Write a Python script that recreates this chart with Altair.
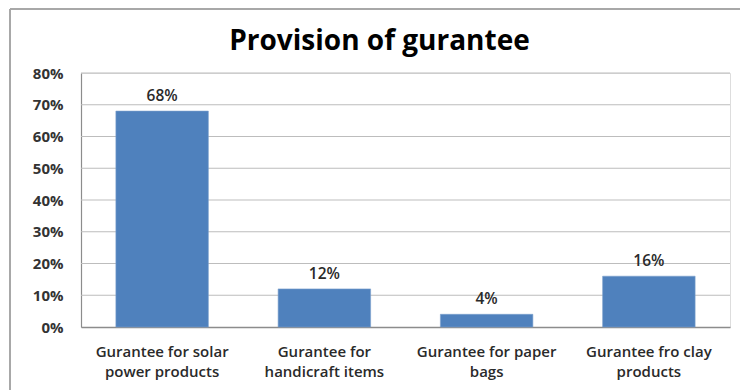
import altair as alt
import pandas as pd

categories = ["Gurantee for solar power products", "Gurantee for handicraft items",
              "Gurantee for paper bags", "Gurantee fro clay products"]
label_lines = [["Gurantee for solar", "power products"], ["Gurantee for", "handicraft items"],
               ["Gurantee for paper", "bags"], ["Gurantee fro clay", "products"]]
values = [0.68, 0.12, 0.04, 0.16]
value_labels = ["68%", "12%", "4%", "16%"]
y_ticks = [0, 0.1, 0.2, 0.3, 0.4, 0.5, 0.6, 0.7, 0.8]

df = pd.DataFrame({"cat": categories, "val": values, "lbl": value_labels})
grid_df = pd.DataFrame({"val": y_ticks[1:]})

label_expr = "{" + ", ".join(
    f"'{c}': {lines!r}" for c, lines in zip(categories, label_lines)
) + "}[datum.value]"

FONT = "Open Sans"

x = alt.X("cat:N", sort=categories, title=None,
          scale=alt.Scale(paddingInner=0.43, paddingOuter=0.215),
          axis=alt.Axis(labelAngle=0, labelExpr=label_expr, labelFontSize=15,
                        labelFont=FONT, labelFontWeight=600, labelColor="#2a2a2a",
                        labelPadding=17, labelLineHeight=20, ticks=False,
                        domainColor="#8c8c8c", domainWidth=1.5, labelLimit=220))
y_axis = alt.Axis(format=".0%", values=y_ticks, labelOverlap=False,
                  labelFontSize=15, labelFont=FONT, labelColor="#333333",
                  labelFontWeight="bold", labelPadding=18, ticks=False,
                  grid=False, domainColor="#8c8c8c", domainWidth=1.2)
y = alt.Y("val:Q", title=None, scale=alt.Scale(domain=[0, 0.8], nice=False), axis=y_axis)

grid = alt.Chart(grid_df).mark_rule(color="#bdbdbd", strokeWidth=1.2).encode(y=y)

base = alt.Chart(df).encode(x=x, y=y)
bars = base.mark_bar(color="#4F81BD", stroke="#7BA0CD", strokeWidth=0.6)
text = base.mark_text(baseline="bottom", dy=-7, fontSize=15.5, font=FONT,
                      fontWeight=600, color="#2a2a2a").encode(text="lbl:N")

border_top = alt.Chart(df).mark_rule(color="#a8a8a8", strokeWidth=2).encode(
    x=alt.value(-71), x2=alt.value(700), y=alt.value(-64))
border_left = alt.Chart(df).mark_rule(color="#a8a8a8", strokeWidth=2).encode(
    x=alt.value(-71), y=alt.value(-64), y2=alt.value(330))

chart = alt.layer(grid, bars, text, border_top, border_left).properties(
    width=649, height=254,
    title=alt.TitleParams("Provision of gurantee", fontSize=28, font="Open Sans",
                          fontWeight="bold", color="#000000", anchor="middle",
                          frame="group", baseline="bottom", dx=-26, offset=-76),
    autosize=alt.AutoSizeParams(type="none"),
    padding={"left": 81, "top": 73, "right": 10, "bottom": 63},
).configure_view(stroke=None).configure(background="white")

chart.save("out.html", embed_options={"renderer": "svg", "actions": False})
